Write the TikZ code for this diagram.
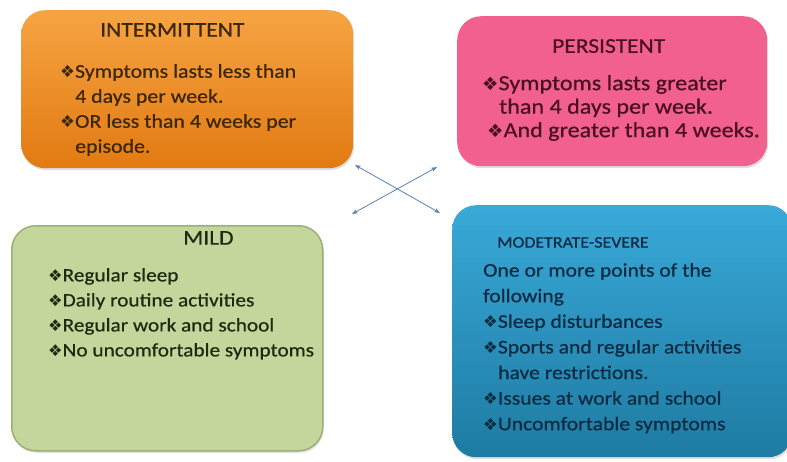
\documentclass[tikz,border=0pt]{standalone}
\usepackage{fontspec}
\setmainfont{Carlito}[FakeStretch=1.12,FakeBold=0.6]
\newfontfamily\dingfont{DejaVu Sans}[Scale=0.85]
\usetikzlibrary{arrows.meta,shadows}

% Panel colours
\definecolor{intertop}{HTML}{F6A443}
\definecolor{interbot}{HTML}{E27A12}
\definecolor{intertext}{HTML}{3B2608}
\definecolor{persistfill}{HTML}{F2608E}
\definecolor{persisttext}{HTML}{4A0F22}
\definecolor{mildfill}{HTML}{C4D69C}
\definecolor{mildedge}{HTML}{9DAF74}
\definecolor{mildtext}{HTML}{1F2A10}
\definecolor{severetop}{HTML}{39A9D8}
\definecolor{severebot}{HTML}{1E7BA2}
\definecolor{severetext}{HTML}{0C2A42}
\definecolor{linkblue}{HTML}{5B80B8}

\newcommand{\bul}{{\dingfont ❖}}

\begin{document}
\begin{tikzpicture}[x=1pt,y=-1pt,
    panel/.style={rounded corners=24pt, anchor=north west, inner sep=0pt,
        drop shadow={opacity=0.25, shadow xshift=1pt, shadow yshift=-2pt}},
    heading/.style={anchor=north west, inner sep=0pt, font=\fontsize{21}{25}\selectfont},
    body/.style={anchor=north west, inner sep=0pt, align=left, font=\fontsize{19.5}{25}\selectfont},
    link/.style={linkblue, line width=0.8pt, {Stealth[length=6pt,width=4.5pt]}-{Stealth[length=6pt,width=4.5pt]}}
]
    \useasboundingbox (0,0) rectangle (787,461);

    % Define the four panels
    \node[panel, minimum width=332pt, minimum height=158pt,
        top color=intertop, bottom color=interbot] (inter) at (21,10) {};
    \node[panel, minimum width=310pt, minimum height=150pt,
        fill=persistfill] (persist) at (457,16) {};
    \node[panel, minimum width=311pt, minimum height=225pt,
        fill=mildfill, draw=mildedge, line width=1.5pt] (mild) at (11,225) {};
    \node[panel, minimum width=340pt, minimum height=252pt,
        shading angle=20, top color=severetop, bottom color=severebot] (severe) at (452,205) {};

    % Intermittent
    \node[heading, text=intertext] (intertitle) at (100,23) {INTERMITTENT};
    \node[body, text=intertext] (interbody) at (60,64) {%
        \bul Symptoms lasts less than\\
        \hspace{15pt}4 days per week.\\
        \bul OR less than 4 weeks per\\
        \hspace{15pt}episode.};

    % Persistent
    \node[heading, text=persisttext] (persisttitle) at (552,39) {PERSISTENT};
    \node[body, text=persisttext, font=\fontsize{21.5}{23.5}\selectfont] (persistbody) at (482,75) {%
        \bul Symptoms lasts greater\\
        \hspace{17pt}than 4 days per week.\\
        \hspace{5pt}\bul And greater than 4 weeks.};

    % Mild
    \node[heading, text=mildtext] (mildtitle) at (183,231) {MILD};
    \node[body, text=mildtext, font=\fontsize{19}{25}\selectfont] (mildbody) at (48,268) {%
        \bul Regular sleep\\
        \bul Daily routine activities\\
        \bul Regular work and school\\
        \bul No uncomfortable symptoms};

    % Moderate-severe
    \node[heading, text=severetext, font=\fontsize{16}{20}\selectfont] (severetitle) at (497,237) {MODETRATE-SEVERE};
    \node[body, text=severetext, font=\fontsize{19.3}{25.6}\selectfont] (severebody) at (483,263) {%
        One or more points of the\\
        following\\
        \bul Sleep disturbances\\
        \bul Sports and regular activities\\
        \hspace{15pt}have restrictions.\\
        \bul Issues at work and school\\
        \bul Uncomfortable symptoms};

    % Define the crossing arrows
    \coordinate (nw) at (355,165);
    \coordinate (ne) at (437,167);
    \coordinate (sw) at (352,214);
    \coordinate (se) at (440,213);
    \draw[link] (nw) -- (se);
    \draw[link] (sw) -- (ne);
\end{tikzpicture}
\end{document}
